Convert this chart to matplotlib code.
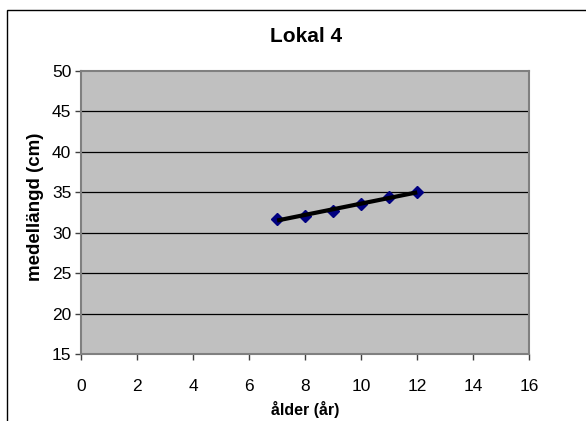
import numpy as np
import matplotlib
matplotlib.use("Agg")
import matplotlib.pyplot as plt
from matplotlib.patches import Rectangle

plt.rcParams['font.family'] = ['Liberation Sans', 'DejaVu Sans']

# Mean length per age
ages = [7, 8, 9, 10, 11, 12]
mean_length = [31.7, 32.1, 32.65, 33.5, 34.45, 35.0]

title = "Lokal 4"
xlabel = "ålder (år)"
ylabel = "medellängd (cm)"
xticks = [0, 2, 4, 6, 8, 10, 12, 14, 16]
yticks = [15, 20, 25, 30, 35, 40, 45, 50]

W, H = 586, 421
fig = plt.figure(figsize=(W / 100, H / 100), dpi=100)
fig.patch.set_facecolor('white')

# Outer chart frame (left and top edges visible)
fig.patches.append(Rectangle((7 / W, -1), 2, 2 - 10 / H, transform=fig.transFigure,
                             fill=False, edgecolor='black', linewidth=1.0, clip_on=False))

ax = fig.add_axes([81 / W, 1 - 354 / H, (529.3 - 81) / W, (354 - 70.7) / H])
ax.set_facecolor('#C0C0C0')
ax.set_xlim(0, 16)
ax.set_ylim(15, 50)
ax.set_xticks(xticks)
ax.set_yticks(yticks)
ax.set_xticklabels([str(t) for t in xticks])
ax.set_yticklabels([str(t) for t in yticks])

for y in yticks[1:-1]:
    ax.axhline(y, color='black', linewidth=0.9, zorder=1)

for s in ax.spines.values():
    s.set_color('#808080')
    s.set_linewidth(1.5)

ax.tick_params(axis='both', direction='out', length=4, width=1, color='#404040',
               labelsize=12.5, pad=3, labelcolor='black')
ax.tick_params(axis='x', pad=14)

# Data markers
ax.plot(ages, mean_length, linestyle='none', marker='D', markersize=6.5,
        color='#000080', zorder=3)

# Linear trend line over the data
coef = np.polyfit(ages, mean_length, 1)
xs = np.array([ages[0], ages[-1]])
ax.plot(xs, np.polyval(coef, xs), color='black', linewidth=3, zorder=4,
        solid_capstyle='butt')

fig.text(306 / W, 1 - 37 / H, title, ha='center', va='center',
         fontsize=15, fontweight='bold')
fig.text(305 / W, 1 - 409 / H, xlabel, ha='center', va='center',
         fontsize=11.5, fontweight='bold')
fig.text(36 / W, 1 - 207 / H, ylabel, ha='center', va='center', rotation=90,
         fontsize=13.5, fontweight='bold')

fig.savefig('out.png', dpi=100)
